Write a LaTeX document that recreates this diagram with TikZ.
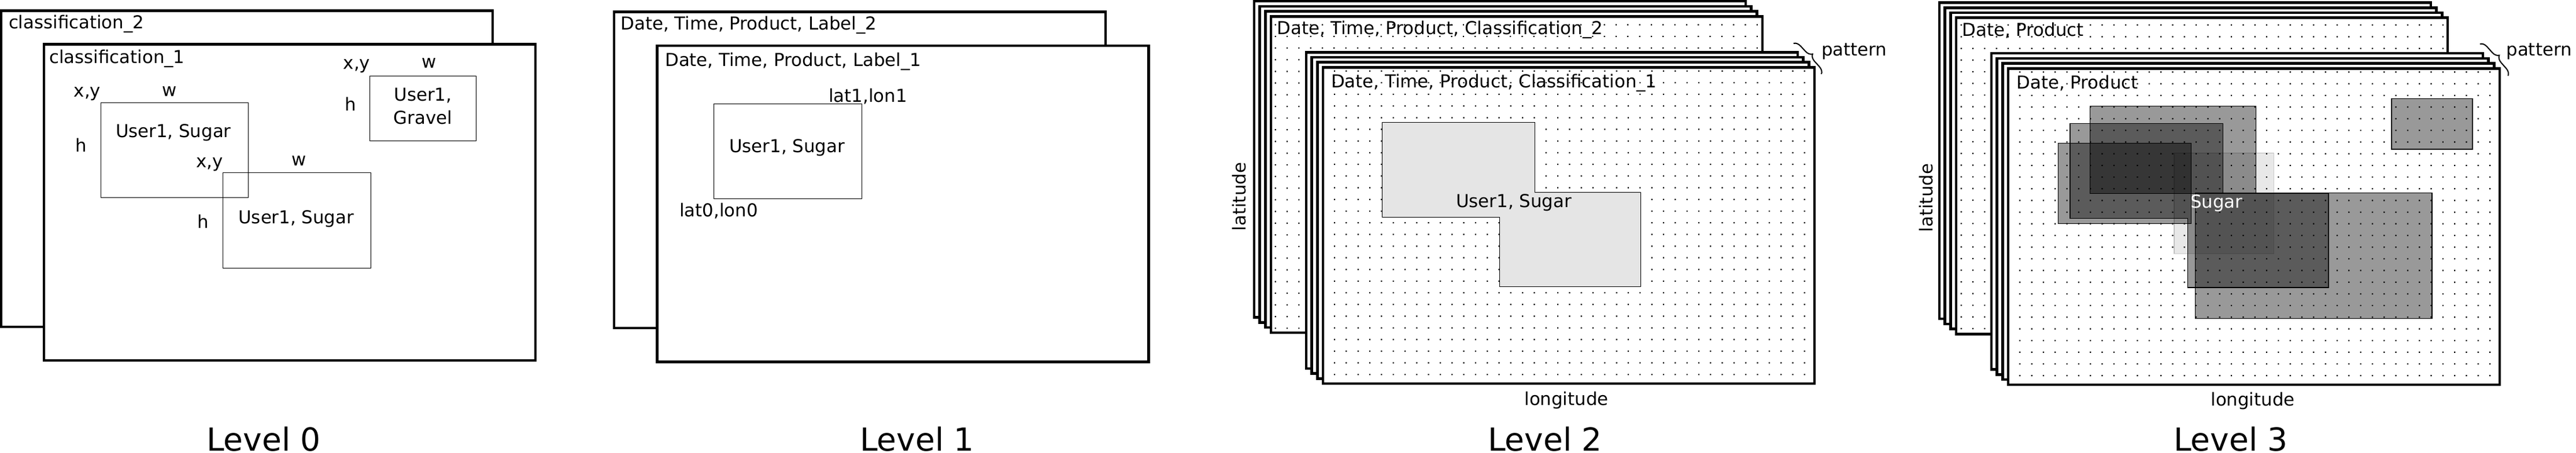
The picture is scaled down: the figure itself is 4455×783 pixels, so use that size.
\documentclass[tikz,border=0pt]{standalone}
\usepackage{fontspec}
\setmainfont{DejaVu Sans}
\usetikzlibrary{positioning, calc, decorations.pathreplacing}

\begin{document}
\begin{tikzpicture}[x=1pt, y=-1pt,
    every node/.style={inner sep=0pt, outer sep=0pt, font=\fontsize{30.8}{37}\selectfont},
    frame/.style={draw, line width=4.6pt, fill=white, anchor=north west,
        minimum width=850pt, minimum height=546.5pt},
    box/.style={draw, line width=1pt, anchor=north west},
    shade/.style={draw, line width=1.2pt, fill=black, fill opacity=0.4},
    title/.style={anchor=base west},
    lbl/.style={anchor=base},
    level/.style={anchor=base, font=\fontsize{55}{66}\selectfont},
    patbrace/.style={decorate, decoration={brace, amplitude=12pt}, line width=2pt}]
    \useasboundingbox (0,0) rectangle (4455,783);

    \node[frame] (f0b) at (2,18.3) {};
    \node[title] (t0b) at ($(f0b.north west)+(13,31.7)$) {classification\_2};
    \node[frame] (f0f) at (75.8,76.5) {};
    \node[title] (t0f) at ($(f0f.north west)+(9.5,33.5)$) {classification\_1};
    \node[box, minimum width=255pt, minimum height=164.3pt] (b0a) at (174.3,177.7) {};
    \node[box, minimum width=256pt, minimum height=164pt] (b0b) at (385.7,299) {};
    \node[box, minimum width=183.6pt, minimum height=112.5pt] (b0c) at (639.7,131.5) {};
    \node[lbl] (u0a) at ($(b0a.north)+(-2,60.3)$) {User1, Sugar};
    \node[lbl] (u0b) at ($(b0b.north)+(-1.5,88)$) {User1, Sugar};
    \node[lbl] (u0c) at ($(b0c.north)+(0,43.5)$) {User1,};
    \node[lbl] (g0c) at ($(b0c.north)+(0,83.5)$) {Gravel};
    \node[lbl] (xy0a) at ($(b0a.north west)+(-23.3,-9.7)$) {x,y};
    \node[lbl] (w0a) at ($(b0a.north)+(-8.3,-10.7)$) {w};
    \node[lbl] (h0a) at ($(b0a.west)+(-34.3,2.2)$) {h};
    \node[lbl] (xy0b) at ($(b0b.north west)+(-23.2,-9)$) {x,y};
    \node[lbl] (w0b) at ($(b0b.north)+(3.8,-12)$) {w};
    \node[lbl] (h0b) at ($(b0b.west)+(-34.2,14)$) {h};
    \node[lbl] (xy0c) at ($(b0c.north west)+(-22.7,-11.5)$) {x,y};
    \node[lbl] (w0c) at ($(b0c.north)+(10.5,-13.5)$) {w};
    \node[lbl] (h0c) at ($(b0c.west)+(-33.7,4.2)$) {h};
    \node[level] (lv0) at (456,779) {Level 0};

    \node[frame] (f1b) at (1062,20.5) {};
    \node[title] (t1b) at ($(f1b.north west)+(11.7,31.2)$) {Date, Time, Product, Label\_2};
    \node[frame] (f1f) at (1136.5,79) {};
    \node[title] (t1f) at ($(f1f.north west)+(13.8,36)$) {Date, Time, Product, Label\_1};
    \node[box, minimum width=256.4pt, minimum height=164.7pt] (b1) at (1234.3,179.3) {};
    \node[lbl] (u1) at ($(b1.north)+(-1.5,84)$) {User1, Sugar};
    \node[lbl] (ll1) at ($(b1.north east)+(10.3,-2.6)$) {lat1,lon1};
    \node[lbl] (ll0) at ($(b1.south west)+(8.7,31)$) {lat0,lon0};
    \node[level] (lv1) at (1586,779) {Level 1};

    \foreach \k in {3,2,1}
        \node[frame] (f2b\k) at (2198-9.7*\k,28.3-8.7*\k) {};
    \node[frame] (f2b) at (2198,28.3) {};
    \fill \foreach \i in {0,...,41} {\foreach \j in {0,...,26} {(2204.6+20.32*\i,41.6+20.18*\j) rectangle +(2.2,2.2)}};
    \node[title] (t2b) at ($(f2b.north west)+(10.7,31.7)$) {Date, Time, Product, Classification\_2};
    \foreach \k in {3,2,1}
        \node[frame] (f2f\k) at (2288-9.7*\k,116.5-8.7*\k) {};
    \node[frame] (f2f) at (2288,116.5) {};
    \fill \foreach \i in {0,...,40} {\foreach \j in {0,...,26} {(2306.9+20.32*\i,121.6+20.18*\j) rectangle +(2.2,2.2)}};
    \node[title] (t2f) at ($(f2f.north west)+(14,35.2)$) {Date, Time, Product, Classification\_1};
    \draw[line width=1pt, fill=gray!20] (2390.4,212) -- (2654.5,212) -- (2654.5,332.5) -- (2837,332.5)
        -- (2837,495) -- (2593.6,495) -- (2593.6,375.5) -- (2390.4,375.5) -- cycle;
    \node[lbl] (u2) at (2618,359) {User1, Sugar};
    \node[rotate=90] (lat2) at (2142.5,340) {latitude};
    \node[lbl] (lon2) at (2709,700) {longitude};
    \coordinate (p2a) at ($(f2f.north east)+(-36.3,-41.5)$);
    \coordinate (p2b) at ($(f2f.north east)+(12,11.5)$);
    \draw[patbrace] (p2a) -- (p2b);
    \node[title] (pat2) at ($(f2f.north east)+(12,-19.5)$) {pattern};
    \node[level] (lv2) at (2672,779) {Level 2};

    \foreach \k in {3,2,1}
        \node[frame] (f3b\k) at (3383-9.7*\k,30.7-8.7*\k) {};
    \node[frame] (f3b) at (3383,30.7) {};
    \fill \foreach \i in {0,...,41} {\foreach \j in {0,...,26} {(3390.6+20.32*\i,42.2+20.18*\j) rectangle +(2.2,2.2)}};
    \node[title] (t3b) at ($(f3b.north west)+(10.7,32)$) {Date, Product};
    \foreach \k in {3,2,1}
        \node[frame] (f3f\k) at (3473-9.7*\k,118.3-8.7*\k) {};
    \node[frame] (f3f) at (3473,118.3) {};
    \fill \foreach \i in {0,...,40} {\foreach \j in {0,...,26} {(3492.2+20.32*\i,123.4+20.18*\j) rectangle +(2.2,2.2)}};
    \node[title] (t3f) at ($(f3f.north west)+(14.7,35.7)$) {Date, Product};
    \draw[shade] (3614.3,183.3) rectangle (3901.7,334.3);
    \draw[shade] (3580,213.3) -- (3844.3,213.3) -- (3844.3,334.5) -- (4027,334.5) -- (4027,497)
        -- (3783.3,497) -- (3783.3,377.7) -- (3580,377.7) -- cycle;
    \draw[shade] (3559.3,247.3) rectangle (3789.3,386.7);
    \draw[line width=1.2pt, draw opacity=0.2, fill=black, fill opacity=0.09] (3760,264.3) rectangle (3932.3,438.3);
    \draw[shade] (3796.7,333.3) rectangle (4206,550.5);
    \draw[shade] (4136,170.5) rectangle (4276,258);
    \node[title, text=white] (s3) at (3788,360) {Sugar};
    \node[rotate=90] (lat3) at (3331,342) {latitude};
    \node[lbl] (lon3) at (3896,701) {longitude};
    \coordinate (p3a) at ($(f3f.north east)+(-34,-42.3)$);
    \coordinate (p3b) at ($(f3f.north east)+(14.5,12.7)$);
    \draw[patbrace] (p3a) -- (p3b);
    \node[title] (pat3) at ($(f3f.north east)+(11.5,-21.3)$) {pattern};
    \node[level] (lv3) at (3858,779) {Level 3};
\end{tikzpicture}
\end{document}
